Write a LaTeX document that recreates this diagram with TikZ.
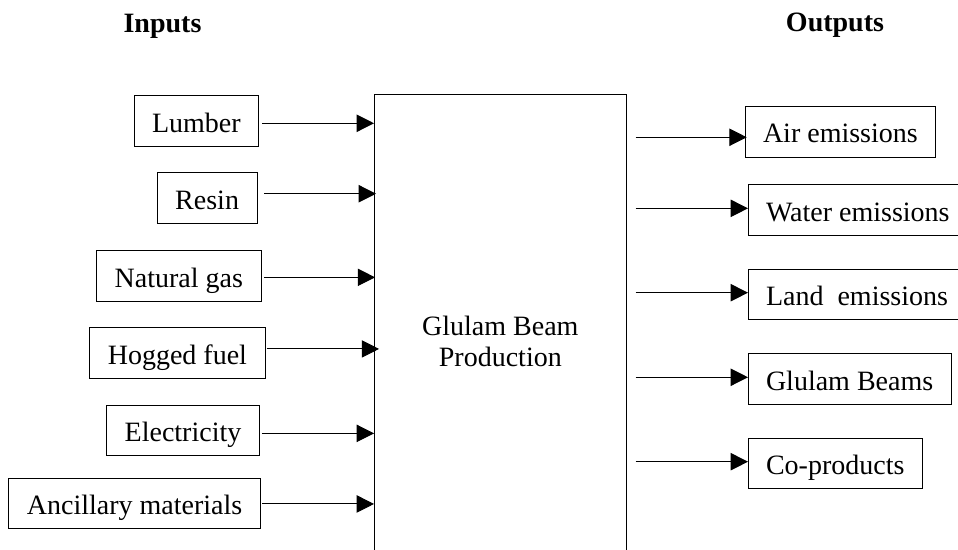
\documentclass[tikz,border=0pt]{standalone}
\usepackage{fontspec}
\setmainfont{Liberation Serif}
\usetikzlibrary{arrows.meta}

\newcommand{\bodysize}{\fontsize{21}{23.8}\selectfont}

\tikzset{
  item/.style={draw, line width=0.75pt, inner xsep=13.5pt, outer sep=0pt,
    minimum height=37.9pt, text height=16.5pt, text depth=0pt},
  title/.style={font=\bodysize\bfseries, inner sep=0pt, anchor=base},
  flow/.style={line width=0.75pt, -{Triangle[length=13pt,width=13pt]}}
}

\begin{document}
\begin{tikzpicture}[x=0.75pt, y=-0.75pt, font=\bodysize]
  % page area: 958 x 550 units
  \clip (0,0) rectangle (958,550);
  \fill[white] (0,0) rectangle (958,550);

  % column titles
  \node[title] (tin)  at (162.5,32) {Inputs};
  \node[title] (tout) at (835,31)   {Outputs};

  % the process box (open at the bottom edge of the page)
  \node[draw, line width=0.75pt, outer sep=0pt, align=center,
        minimum width=189.5pt, minimum height=369.5pt] (prod)
        at (500.35,341.3) {Glulam Beam\\Production};

  % inputs
  \node[item, anchor=east] (lumber) at (258.7,121)   {Lumber};
  \node[item, anchor=east] (resin)  at (257,198)     {Resin};
  \node[item, anchor=east] (gas)    at (261,276)     {Natural gas};
  \node[item, anchor=east] (hog)    at (265,353.2)   {Hogged fuel};
  \node[item, anchor=east] (elec)   at (259.3,430.7) {Electricity};
  \node[item, anchor=east] (anc)    at (260.3,503.7) {Ancillary materials};

  % outputs
  \node[item, anchor=west] (air)   at (745,131.8) {Air emissions};
  \node[item, anchor=west] (water) at (748,210.2) {Water emissions};
  \node[item, anchor=west] (land)  at (748,294.7) {Land~~emissions};
  \node[item, anchor=west] (beams) at (748,379)   {Glulam Beams};
  \node[item, anchor=west] (cop)   at (748,463.7) {Co-products};

  % input flows into the process
  \draw[flow] ([xshift=2.5pt,yshift=-1.7pt]lumber.east) -- ([yshift=-1.7pt]lumber.east -| prod.west);
  \draw[flow] ([xshift=5.3pt,yshift=3.2pt]resin.east)   -- ([xshift=1.5pt,yshift=3.2pt]resin.east -| prod.west);
  \draw[flow] ([xshift=2.3pt,yshift=-1pt]gas.east)      -- ([xshift=0.8pt,yshift=-1pt]gas.east -| prod.west);
  \draw[flow] ([xshift=1.3pt,yshift=3.2pt]hog.east)     -- ([xshift=3.8pt,yshift=3.2pt]hog.east -| prod.west);
  \draw[flow] ([xshift=2pt,yshift=-2pt]elec.east)       -- ([yshift=-2pt]elec.east -| prod.west);
  \draw[flow] ([xshift=1.3pt,yshift=-0.2pt]anc.east)    -- ([yshift=-0.2pt]anc.east -| prod.west);

  % process outputs
  \draw[flow] ([xshift=6.7pt,yshift=-4.1pt]air.west -| prod.east)  -- ([xshift=1.3pt,yshift=-4.1pt]air.west);
  \draw[flow] ([xshift=6.7pt,yshift=1.4pt]water.west -| prod.east) -- ([yshift=1.4pt]water.west);
  \draw[flow] ([xshift=6.7pt,yshift=1.5pt]land.west -| prod.east)  -- ([yshift=1.5pt]land.west);
  \draw[flow] ([xshift=6.7pt,yshift=1.3pt]beams.west -| prod.east) -- ([yshift=1.3pt]beams.west);
  \draw[flow] ([xshift=6.7pt,yshift=1.5pt]cop.west -| prod.east)   -- ([yshift=1.5pt]cop.west);
\end{tikzpicture}
\end{document}
